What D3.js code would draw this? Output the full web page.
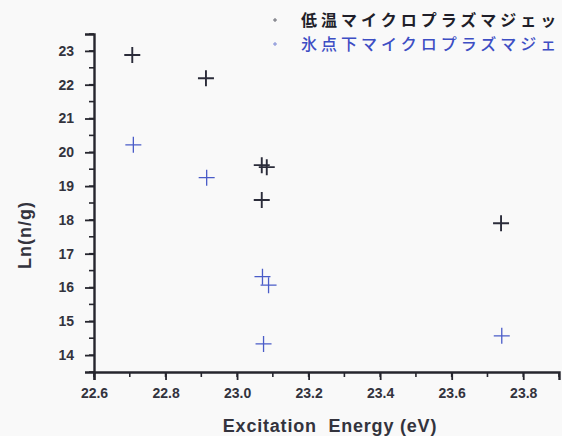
<!DOCTYPE html>
<html>
<head>
<meta charset="utf-8">
<script src="https://cdn.jsdelivr.net/npm/d3@7"></script>
<style>
  html, body { margin: 0; padding: 0; background: #f9f9f9; }
  svg { display: block; }
</style>
</head>
<body>
<svg id="chart" width="562" height="436"></svg>
<script>
// Series: excitation energy (eV) vs Ln(n/g)
const seriesNames = ["低温マイクロプラズマジェット", "氷点下マイクロプラズマジェット"];
const lowTempX = [22.707, 22.913, 23.069, 23.083, 23.069, 23.738];
const lowTempY = [22.88, 22.19, 19.62, 19.56, 18.59, 17.90];
const subZeroX = [22.710, 22.915, 23.071, 23.088, 23.074, 23.740];
const subZeroY = [20.22, 19.25, 16.32, 16.07, 14.33, 14.57];
const xTicks = [22.6, 22.8, 23.0, 23.2, 23.4, 23.6, 23.8];
const yTicks = [14, 15, 16, 17, 18, 19, 20, 21, 22, 23];

const svg = d3.select("#chart");
const axisColor = "#26262e";
const darkColor = "#2b2c3a";
const blueColor = "#4a5cc8";
const tickFont = "'Liberation Sans', Arial, sans-serif";

const x = d3.scaleLinear().domain([22.6, 23.9]).range([94, 559]);
const y = d3.scaleLinear().domain([13.5, 23.5]).range([372, 34]);

// minor ticks
const xMinor = d3.range(22.6, 23.9001, 0.1);
const yMinor = d3.range(13.5, 23.5001, 0.5);

const gx = svg.append("g").attr("transform", "translate(0,372)");
gx.selectAll("line.minor").data(xMinor).join("line")
  .attr("x1", d => x(d)).attr("x2", d => x(d))
  .attr("y1", 0).attr("y2", 5)
  .attr("stroke", axisColor).attr("stroke-width", 1.6);
gx.call(d3.axisBottom(x).tickValues(xTicks).tickFormat(d3.format(".1f")).tickSize(8).tickPadding(8))
  .call(g => g.select(".domain").attr("stroke", axisColor).attr("stroke-width", 2.4))
  .call(g => g.selectAll(".tick line").attr("stroke", axisColor).attr("stroke-width", 1.8))
  .call(g => g.selectAll(".tick text").attr("fill", "#33333d")
    .style("font-family", tickFont).style("font-size", "14px").style("font-weight", "bold"));

const gy = svg.append("g").attr("transform", "translate(94,0)");
gy.selectAll("line.minor").data(yMinor).join("line")
  .attr("x1", 0).attr("x2", -5)
  .attr("y1", d => y(d)).attr("y2", d => y(d))
  .attr("stroke", axisColor).attr("stroke-width", 1.6);
gy.call(d3.axisLeft(y).tickValues(yTicks).tickFormat(d3.format("d")).tickSize(9).tickPadding(11))
  .call(g => g.select(".domain").attr("stroke", axisColor).attr("stroke-width", 2.4))
  .call(g => g.selectAll(".tick line").attr("stroke", axisColor).attr("stroke-width", 1.8))
  .call(g => g.selectAll(".tick text").attr("fill", "#33333d")
    .style("font-family", tickFont).style("font-size", "14px").style("font-weight", "bold"));

// axis titles
svg.append("text")
  .attr("x", 330).attr("y", 432)
  .attr("text-anchor", "middle")
  .attr("fill", "#33333d")
  .attr("xml:space", "preserve")
  .style("font-family", tickFont).style("font-size", "18px").style("font-weight", "bold")
  .style("letter-spacing", "0.8px")
  .text("Excitation  Energy (eV)");

svg.append("text")
  .attr("transform", "translate(31,235) rotate(-90)")
  .attr("text-anchor", "middle")
  .attr("fill", "#33333d")
  .style("font-family", tickFont).style("font-size", "18px").style("font-weight", "bold")
  .style("letter-spacing", "1px")
  .text("Ln(n/g)");

// plus markers
function plus(g, xs, ys, color, width, r) {
  const pts = xs.map((v, i) => [x(v), y(ys[i])]);
  g.selectAll("path").data(pts).join("path")
    .attr("d", d => `M${d[0] - r},${d[1]}H${d[0] + r}M${d[0]},${d[1] - r}V${d[1] + r}`)
    .attr("stroke", color).attr("stroke-width", width).attr("fill", "none");
}
plus(svg.append("g"), lowTempX, lowTempY, darkColor, 1.9, 8);
plus(svg.append("g"), subZeroX, subZeroY, blueColor, 1.3, 8);

// legend
const cjk = "'Noto Sans CJK JP', sans-serif";
const legend = [
  { name: seriesNames[0], color: "#1f1f2a", weight: "bold", dot: darkColor, y: 20 },
  { name: seriesNames[1], color: "#3d4ec4", weight: 500, dot: blueColor, y: 44 }
];
legend.forEach(l => {
  svg.append("path")
    .attr("d", `M273,${l.y}H277M275,${l.y - 2}V${l.y + 2}`)
    .attr("stroke", l.dot).attr("stroke-width", 1).attr("opacity", 0.7);
  svg.append("text")
    .attr("x", 301).attr("y", l.y + 6)
    .attr("fill", l.color)
    .style("font-family", cjk).style("font-size", "16px").style("font-weight", l.weight)
    .style("letter-spacing", "4px")
    .text(l.name);
});
</script>
</body>
</html>
